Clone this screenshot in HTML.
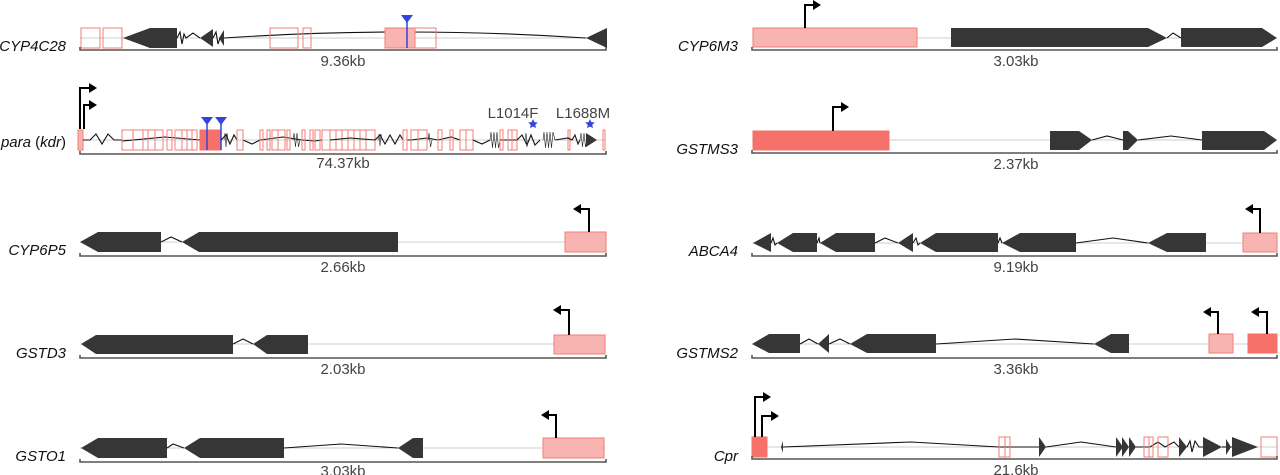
<!DOCTYPE html>
<html><head><meta charset="utf-8"><style>
html,body{margin:0;padding:0;background:#fff;}
svg{display:block;}
.lab{font-family:"Liberation Sans",sans-serif;font-style:italic;font-size:15px;fill:#111;}
.kb{font-family:"Liberation Sans",sans-serif;font-size:15px;fill:#444;}
.mut{font-family:"Liberation Sans",sans-serif;font-size:15px;fill:#444;}
.g{stroke:#cfcfcf;stroke-width:1;fill:none;}
.ax{stroke:#555;stroke-width:1.6;fill:none;}
.ex{fill:#363636;}
.in{stroke:#111;stroke-width:1.1;fill:none;stroke-linejoin:miter;}
.po{fill:none;stroke:#f07e78;stroke-width:1;}
.pl{fill:#f8b4b0;stroke:#f07e78;stroke-width:1;}
.pr{fill:#f6716a;stroke:#f6716a;stroke-width:1;}
.pm{stroke:#000;stroke-width:2;fill:none;}
.ah{fill:#000;}
.bl{stroke:#3344dd;stroke-width:1.5;}
.bt{fill:#3344dd;}
.sq{stroke:#222;stroke-width:0.6;fill:none;}
</style></head><body>
<svg width="1280" height="475" viewBox="0 0 1280 475" xmlns="http://www.w3.org/2000/svg">

<!-- ============ LEFT COLUMN ============ -->
<!-- CYP4C28 -->
<text class="lab" x="66" y="51" text-anchor="end">CYP4C28</text>
<line class="g" x1="80" y1="38" x2="606" y2="38"/>
<rect class="po" x="81" y="28" width="19" height="20"/>
<rect class="po" x="103" y="28" width="19" height="20"/>
<polygon class="ex" points="123,38 150,28 177,28 177,48 150,48"/>
<polyline class="in" points="177,38 180,32 182,44 184,34 186,38 193,33 200,38"/>
<polygon class="ex" points="200,38 213,29 213,47"/>
<polyline class="in" points="213,38 216,32 218,44 220,38"/>
<polygon class="ex" points="219,38 224,30 224,46"/>
<path class="in" d="M224,38 Q405,26 586,38"/>
<rect class="po" x="270" y="28" width="28" height="20"/>
<rect class="po" x="303" y="28" width="8" height="20"/>
<rect class="pl" x="385" y="28" width="30" height="20"/>
<rect class="po" x="415" y="28" width="21" height="20"/>
<line class="bl" x1="407" y1="22" x2="407" y2="48"/>
<polygon class="bt" points="401,15 413,15 407,23"/>
<polygon class="ex" points="586,38 607,28 607,48"/>
<polyline class="ax" points="80,47 80,50 606,50 606,47"/>
<text class="kb" x="343" y="66" text-anchor="middle">9.36kb</text>

<!-- para (kdr) -->
<text class="lab" x="66" y="147" text-anchor="end">para <tspan font-style="normal">(</tspan>kdr<tspan font-style="normal">)</tspan></text>
<line class="g" x1="80" y1="140" x2="606" y2="140"/>
<polyline class="pm" points="80,129 80,88 90,88"/>
<polygon class="ah" points="89,83 97,88 89,93"/>
<polyline class="pm" points="84,129 84,105 90,105"/>
<polygon class="ah" points="89,100 97,105 89,110"/>
<rect class="pl" x="78" y="130" width="5" height="20"/>
<polyline class="in" points="83,140 90,140 96,134 102,144 108,134 114,140 122,140"/>
<polyline class="in" points="122,141 165,137 200,140"/>
<g class="po">
<rect x="122" y="130" width="11" height="20"/><rect x="133" y="130" width="10" height="20"/>
<rect x="143" y="130" width="5" height="20"/><rect x="148" y="130" width="7" height="20"/>
<rect x="155" y="130" width="8" height="20"/><rect x="167" y="130" width="5" height="20"/>
<rect x="175" y="130" width="7" height="20"/><rect x="182" y="130" width="5" height="20"/>
<rect x="187" y="130" width="5" height="20"/><rect x="192" y="130" width="5" height="20"/>
</g>
<rect class="pr" x="200" y="130" width="21" height="20"/>
<line class="bl" x1="207" y1="124" x2="207" y2="150"/>
<line class="bl" x1="221" y1="124" x2="221" y2="150"/>
<polygon class="bt" points="201,117 213,117 207,125"/>
<polygon class="bt" points="215,117 227,117 221,125"/>
<polyline class="in" points="221,140 226,135 230,144 234,135 237,140"/>
<polyline class="sq" points="224,140 225,133 226,147 227,133 228,140"/>
<polyline class="in" points="243,140 252,144 260,140 283,137 302,140 315,141 322,140"/>
<polyline class="sq" points="293,140 294,133 295.5,147 297,133 298.5,147 300,140"/>
<g class="po">
<rect x="237" y="130" width="6" height="20"/>
<rect x="260" y="130" width="3" height="20"/><rect x="267" y="130" width="3" height="20"/>
<rect x="272" y="130" width="6" height="20"/><rect x="278" y="130" width="7" height="20"/>
<rect x="287" y="130" width="3" height="20"/>
<rect x="302" y="130" width="3" height="20"/><rect x="310" y="130" width="3" height="20"/>
<rect x="315" y="130" width="5" height="20"/><rect x="322" y="130" width="8" height="20"/>
<rect x="330" y="130" width="6" height="20"/><rect x="336" y="130" width="6" height="20"/>
<rect x="342" y="130" width="6" height="20"/><rect x="348" y="130" width="6" height="20"/>
<rect x="354" y="130" width="6" height="20"/><rect x="360" y="130" width="6" height="20"/>
<rect x="366" y="130" width="9" height="20"/>
</g>
<polyline class="in" points="330,140 350,138 375,140"/>
<polyline class="in" points="375,140 380,135 385,144 390,135 395,144 400,135 403,140"/>
<polyline class="sq" points="378,140 379,134 380,146 381,134 382,140"/>
<polyline class="in" points="407,140 411,140 427,138 438,140 451,137 460,140"/>
<polyline class="sq" points="428,140 429,133 430.5,147 432,140"/>
<g class="po">
<rect x="403" y="130" width="4" height="20"/>
<rect x="411" y="130" width="7" height="20"/><rect x="418" y="130" width="9" height="20"/>
<rect x="438" y="130" width="4" height="20"/><rect x="450" y="130" width="3" height="20"/>
<rect x="460" y="130" width="6" height="20"/><rect x="466" y="130" width="7" height="20"/>
</g>
<polyline class="in" points="473,140 482,144 490,140"/>
<polyline class="sq" points="490,140 491,132 492.5,148 494,132 495.5,148 497,132 498.5,148 500,140"/>
<polyline class="in" points="500,140 517,140"/>
<g class="po">
<rect x="500" y="130" width="3" height="20"/>
<rect x="508" y="130" width="4" height="20"/><rect x="512" y="130" width="5" height="20"/>
<rect x="568" y="130" width="2" height="20"/><rect x="603" y="130" width="2" height="20"/>
</g>
<polyline class="in" points="517,140 522,135 527,145 531,135 535,145 540,140"/>
<polyline class="sq" points="525,140 526,133 527,147 528,140"/>
<polyline class="sq" points="543,140 544,132 545.5,148 547,132 548.5,148 550,132 551.5,148 553,132 555,140"/>
<polyline class="in" points="555,140 568,138 572,140 575,135 578,144 580,140"/>
<polyline class="sq" points="580,140 581,133 582.5,147 584,133 585.5,147 587,140"/>
<polygon class="ex" points="586,133 597,140 586,147"/>
<text class="mut" x="513" y="118" text-anchor="middle">L1014F</text>
<text class="mut" x="583" y="118" text-anchor="middle">L1688M</text>
<polygon class="bt" points="533,119 534.4,122.1 537.8,122.5 535.3,124.8 535.9,128.1 533,126.5 530.1,128.1 530.7,124.8 528.2,122.5 531.6,122.1"/>
<polygon class="bt" points="590,119 591.4,122.1 594.8,122.5 592.3,124.8 592.9,128.1 590,126.5 587.1,128.1 587.7,124.8 585.2,122.5 588.6,122.1"/>
<polyline class="ax" points="80,151 80,154 606,154 606,151"/>
<text class="kb" x="343" y="168" text-anchor="middle">74.37kb</text>

<!-- CYP6P5 -->
<text class="lab" x="66" y="255" text-anchor="end">CYP6P5</text>
<line class="g" x1="80" y1="242" x2="606" y2="242"/>
<polygon class="ex" points="80,242 98,232 161,232 161,252 98,252"/>
<polyline class="in" points="161,242 171,237 182,242"/>
<polygon class="ex" points="182,242 199,232 398,232 398,252 199,252"/>
<rect class="pl" x="565" y="232" width="41" height="20"/>
<polyline class="pm" points="589,232 589,209 580,209"/>
<polygon class="ah" points="581,204 573,209 581,214"/>
<polyline class="ax" points="80,253 80,256 606,256 606,253"/>
<text class="kb" x="343" y="272" text-anchor="middle">2.66kb</text>

<!-- GSTD3 -->
<text class="lab" x="66" y="358" text-anchor="end">GSTD3</text>
<line class="g" x1="80" y1="344" x2="606" y2="344"/>
<polygon class="ex" points="81,344 96,335 233,335 233,354 96,354"/>
<polyline class="in" points="233,344 243,339 253,344"/>
<polygon class="ex" points="253,344 267,335 308,335 308,354 267,354"/>
<rect class="pl" x="554" y="335" width="51" height="19"/>
<polyline class="pm" points="569,335 569,310 560,310"/>
<polygon class="ah" points="561,305 553,310 561,315"/>
<polyline class="ax" points="80,355 80,358 606,358 606,355"/>
<text class="kb" x="343" y="374" text-anchor="middle">2.03kb</text>

<!-- GSTO1 -->
<text class="lab" x="66" y="461" text-anchor="end">GSTO1</text>
<line class="g" x1="80" y1="448" x2="606" y2="448"/>
<polygon class="ex" points="81,448 98,438 167,438 167,458 98,458"/>
<polyline class="in" points="167,448 173,444 184,448"/>
<polygon class="ex" points="184,448 200,438 284,438 284,458 200,458"/>
<polyline class="in" points="284,448 341,444 398,448"/>
<polygon class="ex" points="398,448 413,438 423,438 423,458 413,458"/>
<rect class="pl" x="543" y="438" width="61" height="20"/>
<polyline class="pm" points="556,438 556,415 548,415"/>
<polygon class="ah" points="549,410 541,415 549,420"/>
<polyline class="ax" points="80,459 80,462 606,462 606,459"/>
<text class="kb" x="343" y="476" text-anchor="middle">3.03kb</text>

<!-- ============ RIGHT COLUMN ============ -->
<!-- CYP6M3 -->
<text class="lab" x="738" y="51" text-anchor="end">CYP6M3</text>
<line class="g" x1="752" y1="38" x2="1277" y2="38"/>
<rect class="pl" x="753" y="28" width="164" height="19"/>
<polyline class="pm" points="805,28 805,5 814,5"/>
<polygon class="ah" points="813,0 821,5 813,10"/>
<polygon class="ex" points="951,28 1148,28 1167,38 1148,47 951,47"/>
<polyline class="in" points="1167,38 1173,33 1181,38"/>
<polygon class="ex" points="1181,28 1262,28 1277,38 1262,47 1181,47"/>
<polyline class="ax" points="752,47 752,50 1277,50 1277,47"/>
<text class="kb" x="1016" y="66" text-anchor="middle">3.03kb</text>

<!-- GSTMS3 -->
<text class="lab" x="738" y="154" text-anchor="end">GSTMS3</text>
<line class="g" x1="752" y1="140" x2="1277" y2="140"/>
<rect class="pr" x="753" y="131" width="136" height="19"/>
<polyline class="pm" points="833,131 833,107 842,107"/>
<polygon class="ah" points="841,102 849,107 841,112"/>
<polygon class="ex" points="1050,131 1079,131 1092,140 1079,150 1050,150"/>
<polyline class="in" points="1092,140 1107,136 1123,140"/>
<polygon class="ex" points="1123,131 1128,131 1138,140 1128,150 1123,150"/>
<polyline class="in" points="1138,140 1171,136 1202,140"/>
<polygon class="ex" points="1202,131 1264,131 1277,140 1264,150 1202,150"/>
<polyline class="ax" points="752,150 752,153 1277,153 1277,150"/>
<text class="kb" x="1016" y="169" text-anchor="middle">2.37kb</text>

<!-- ABCA4 -->
<text class="lab" x="738" y="256" text-anchor="end">ABCA4</text>
<line class="g" x1="752" y1="243" x2="1277" y2="243"/>
<polygon class="ex" points="753,243 771,233 771,252"/>
<polyline class="in" points="771,243 773,238 775,245 777,243"/>
<polygon class="ex" points="777,243 793,233 817,233 817,252 793,252"/>
<polyline class="in" points="817,243 819,238 820,243"/>
<polygon class="ex" points="820,243 836,233 875,233 875,252 836,252"/>
<polyline class="in" points="875,243 885,238 898,243"/>
<polygon class="ex" points="898,243 913,233 913,252"/>
<polyline class="in" points="913,243 916,238 918,245 920,243"/>
<polygon class="ex" points="920,243 936,233 998,233 998,252 936,252"/>
<polyline class="in" points="998,243 1000,238 1002,243"/>
<polygon class="ex" points="1002,243 1020,233 1076,233 1076,252 1020,252"/>
<polyline class="in" points="1076,243 1113,238 1148,243"/>
<polygon class="ex" points="1148,243 1167,233 1206,233 1206,252 1167,252"/>
<rect class="pl" x="1243" y="233" width="34" height="19"/>
<polyline class="pm" points="1260,233 1260,209 1252,209"/>
<polygon class="ah" points="1253,204 1245,209 1253,214"/>
<polyline class="ax" points="752,253 752,256 1277,256 1277,253"/>
<text class="kb" x="1016" y="272" text-anchor="middle">9.19kb</text>

<!-- GSTMS2 -->
<text class="lab" x="738" y="358" text-anchor="end">GSTMS2</text>
<line class="g" x1="752" y1="344" x2="1277" y2="344"/>
<polygon class="ex" points="752,344 769,334 800,334 800,353 769,353"/>
<polyline class="in" points="800,344 809,339 818,344"/>
<polygon class="ex" points="818,344 829,334 829,353"/>
<polyline class="in" points="829,344 840,339 850,344"/>
<polygon class="ex" points="850,344 867,334 936,334 936,353 867,353"/>
<polyline class="in" points="936,344 1015,339 1094,344"/>
<polygon class="ex" points="1094,344 1111,334 1129,334 1129,353 1111,353"/>
<rect class="pl" x="1209" y="334" width="24" height="19"/>
<polyline class="pm" points="1218,334 1218,312 1210,312"/>
<polygon class="ah" points="1211,307 1203,312 1211,317"/>
<rect class="pr" x="1248" y="334" width="29" height="19"/>
<polyline class="pm" points="1267,334 1267,312 1258,312"/>
<polygon class="ah" points="1259,307 1251,312 1259,317"/>
<polyline class="ax" points="752,355 752,358 1277,358 1277,355"/>
<text class="kb" x="1016" y="374" text-anchor="middle">3.36kb</text>

<!-- Cpr -->
<text class="lab" x="738" y="461" text-anchor="end">Cpr</text>
<line class="g" x1="752" y1="447" x2="1277" y2="447"/>
<rect class="pr" x="752" y="437" width="15" height="20"/>
<polyline class="pm" points="755,437 755,397 764,397"/>
<polygon class="ah" points="763,392 771,397 763,402"/>
<polyline class="pm" points="762,437 762,416 772,416"/>
<polygon class="ah" points="771,411 779,416 771,421"/>
<polygon class="ex" points="781,447 783,441 783,453"/>
<polyline class="in" points="783,447 911,442 999,447 1039,447"/>
<rect class="po" x="999" y="437" width="6" height="20"/>
<rect class="po" x="1005" y="437" width="5" height="20"/>
<polygon class="ex" points="1039,437 1046,447 1039,457"/>
<polyline class="in" points="1046,447 1081,442 1116,447"/>
<polygon class="ex" points="1116,437 1123,447 1116,457"/>
<polygon class="ex" points="1122,437 1129,447 1122,457"/>
<polygon class="ex" points="1129,437 1136,447 1129,457"/>
<polyline class="in" points="1136,447 1144,447 1150,447 1158,442 1165,447 1174,442 1179,447"/>
<rect class="po" x="1144" y="437" width="5" height="20"/>
<rect class="po" x="1149" y="437" width="4" height="20"/>
<rect class="po" x="1158" y="437" width="10" height="20"/>
<polygon class="ex" points="1179,437 1187,447 1179,457"/>
<polyline class="in" points="1187,447 1190,441 1192,452 1195,441 1199,447 1203,447"/>
<polygon class="ex" points="1203,437 1222,447 1203,457"/>
<polyline class="in" points="1222,447 1226,447"/>
<polygon class="ex" points="1226,439 1231,447 1226,455"/>
<polyline class="in" points="1231,447 1232,447"/>
<polygon class="ex" points="1232,437 1258,447 1232,457"/>
<rect class="po" x="1261" y="437" width="16" height="20"/>
<polyline class="ax" points="752,456 752,459 1277,459 1277,456"/>
<text class="kb" x="1016" y="475" text-anchor="middle">21.6kb</text>

</svg>
</body></html>
